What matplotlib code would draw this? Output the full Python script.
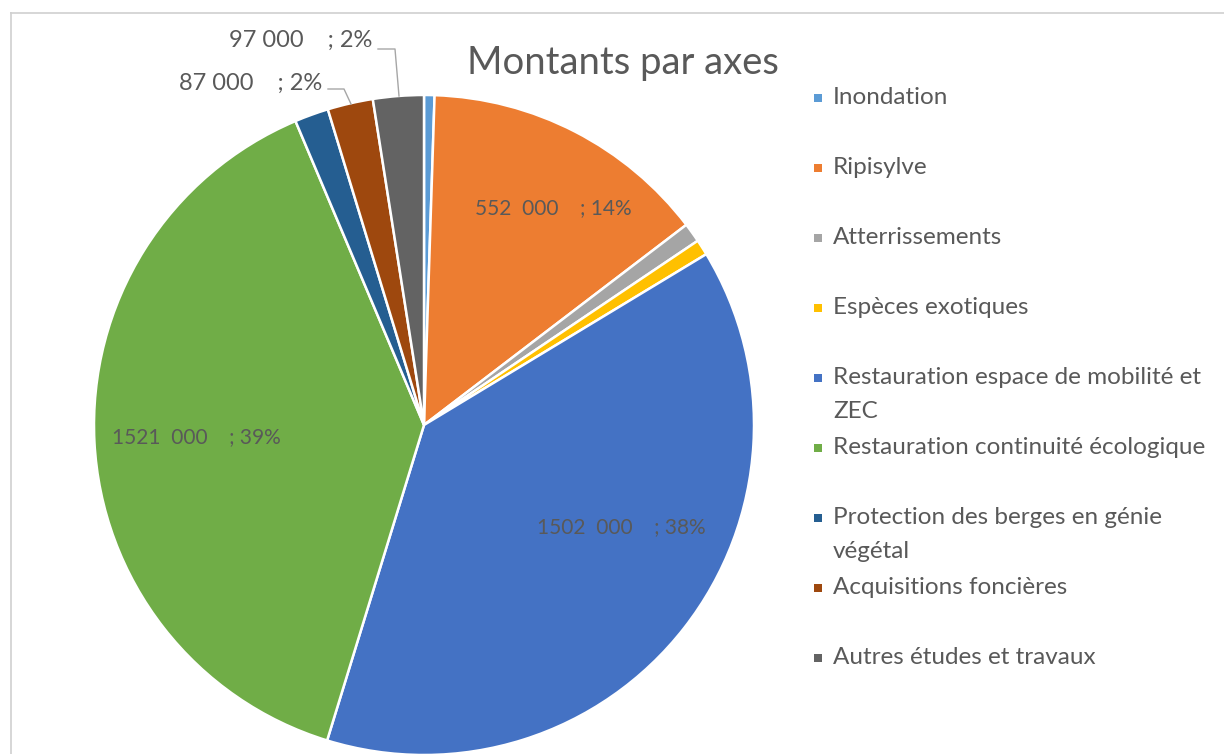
import matplotlib
matplotlib.use("Agg")
import matplotlib.pyplot as plt
from matplotlib.patches import Rectangle

# ---- data ----
categories = [
    "Inondation",
    "Ripisylve",
    "Atterrissements",
    "Espèces exotiques",
    "Restauration espace de mobilité et\nZEC",
    "Restauration continuité écologique",
    "Protection des berges en génie\nvégétal",
    "Acquisitions foncières",
    "Autres études et travaux",
]
values = [20000, 552000, 37000, 30000, 1502000, 1521000, 65000, 87000, 97000]
colors = ["#5B9BD5", "#ED7D31", "#A5A5A5", "#FFC000", "#4472C4",
          "#70AD47", "#255E91", "#9E480E", "#636363"]
title = "Montants par axes"

# which slices get a label, and where (pixel centres)
inside_labels = {1: (553, 208), 4: (621, 527), 5: (196, 437)}
outside_labels = {8: (301, 40), 7: (251, 83)}
leaders = {8: [(378, 49), (395, 49), (399, 96)], 7: [(328, 89), (344, 89), (351, 104)]}

W, H = 1224, 754
TXT = "#595959"
FONT = "Lato"

fig = plt.figure(figsize=(W / 100, H / 100), dpi=100)
ax = fig.add_axes([0, 0, 1, 1])


def Y(y):
    return H - y


cx, cy, R = 424, 425, 330
ax.pie(values, colors=colors, center=(cx, Y(cy)), radius=R, startangle=90,
       counterclock=False, frame=True,
       wedgeprops=dict(edgecolor="white", linewidth=1.8))
ax.set_xlim(0, W)
ax.set_ylim(0, H)
ax.axis("off")

# frame
ax.plot([10, W], [Y(12.5), Y(12.5)], color="#D0D0D0", lw=1.2, solid_capstyle="butt")
ax.plot([10.5, 10.5], [Y(12), 0], color="#D0D0D0", lw=1.2, solid_capstyle="butt")

total = sum(values)


def fmt(v, gap1, gap2):
    th, rest = divmod(v, 1000)
    return f"{th}{gap1}{rest:03d}{gap2}; {round(100 * v / total)}%"


for i, (x, y) in inside_labels.items():
    ax.text(x, Y(y), fmt(values[i], "  ", "    "), ha="center", va="center",
            fontsize=15, color=TXT, family=FONT)
for i, (x, y) in outside_labels.items():
    ax.text(x, Y(y), fmt(values[i], " ", "    "), ha="center", va="center",
            fontsize=17, color=TXT, family=FONT)

for i, pts in leaders.items():
    ax.plot([p[0] for p in pts], [Y(p[1]) for p in pts], color="#A6A6A6", lw=1)

ax.text(623, Y(63), title, ha="center", va="center", fontsize=27.5,
        color=TXT, family=FONT)

# legend
for k, (name, col) in enumerate(zip(categories, colors)):
    y0 = 98 + 70 * k
    ax.add_patch(Rectangle((814, Y(y0) - 4), 8, 8, color=col, lw=0))
    for j, line in enumerate(name.split("\n")):
        ax.text(833, Y(y0 + 34 * j), line, ha="left", va="center",
                fontsize=17.5, color=TXT, family=FONT)

fig.savefig("out.png", dpi=100)
